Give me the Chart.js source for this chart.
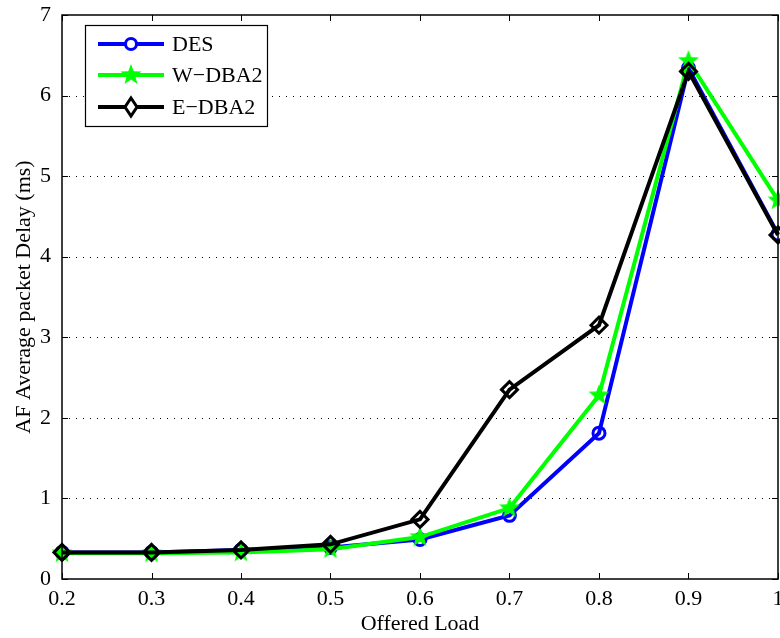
<!DOCTYPE html>
<html>
<head>
<meta charset="utf-8">
<script src="https://cdn.jsdelivr.net/npm/chart.js@4/dist/chart.umd.min.js"></script>
<style>
  html,body{margin:0;padding:0;background:#fff;overflow:hidden;}
  #wrap{width:793px;height:638px;position:relative;}
  canvas{display:block;}
</style>
</head>
<body>
<div id="wrap"><canvas id="c"></canvas></div>
<script>
// data
const loads = [0.2, 0.3, 0.4, 0.5, 0.6, 0.7, 0.8, 0.9, 1.0];
const desDelay = [0.33, 0.33, 0.36, 0.39, 0.49, 0.79, 1.81, 6.34, 4.28];
const wdbaDelay = [0.32, 0.32, 0.33, 0.37, 0.52, 0.88, 2.28, 6.43, 4.70];
const edbaDelay = [0.33, 0.33, 0.36, 0.43, 0.74, 2.35, 3.15, 6.30, 4.27];
const seriesNames = ["DES", "W\u2212DBA2", "E\u2212DBA2"];
const xTicks = [0.2, 0.3, 0.4, 0.5, 0.6, 0.7, 0.8, 0.9, 1];
const yTicks = [0, 1, 2, 3, 4, 5, 6, 7];

const FONT = "'Liberation Serif', 'DejaVu Serif', serif";

// filled pentagram marker like matlab
function starMarker(r, color){
  const c = document.createElement("canvas");
  const s = Math.ceil(r*2+2);
  c.width = s; c.height = s;
  const g = c.getContext("2d");
  g.fillStyle = color;
  g.beginPath();
  for(let i=0;i<10;i++){
    const rr = i%2===0 ? r : r*0.42;
    const a = -Math.PI/2 + i*Math.PI/5;
    const px = s/2 + rr*Math.cos(a), py = s/2 + rr*Math.sin(a);
    i===0 ? g.moveTo(px,py) : g.lineTo(px,py);
  }
  g.closePath();
  g.fill();
  return c;
}
const star = starMarker(11, "#00ff00");

function pts(ys){ return loads.map((x,i)=>({x:x, y:ys[i]})); }

// frame, inward ticks, dotted grid, legend
const matlabAxes = {
  id: "matlabAxes",
  beforeDatasetsDraw(chart){
    const {ctx, chartArea:a, scales:{x, y}} = chart;
    ctx.save();
    ctx.strokeStyle = "#000";
    ctx.lineWidth = 1;
    ctx.setLineDash([1,6]);
    for(const v of yTicks){
      if(v===0 || v===7) continue;
      const py = Math.round(y.getPixelForValue(v))+0.5;
      ctx.beginPath(); ctx.moveTo(a.left, py); ctx.lineTo(a.right, py); ctx.stroke();
    }
    ctx.restore();
  },
  afterDatasetsDraw(chart){
    const {ctx, chartArea:a, scales:{x, y}} = chart;
    ctx.save();
    ctx.strokeStyle = "#000";
    ctx.lineWidth = 1.5;
    ctx.strokeRect(a.left, a.top, a.right-a.left, a.bottom-a.top);
    ctx.lineWidth = 1;
    const t = 6;
    ctx.beginPath();
    for(const v of xTicks){
      const px = Math.round(x.getPixelForValue(v))+0.5;
      ctx.moveTo(px, a.bottom); ctx.lineTo(px, a.bottom-t);
      ctx.moveTo(px, a.top); ctx.lineTo(px, a.top+t);
    }
    for(const v of yTicks){
      const py = Math.round(y.getPixelForValue(v))+0.5;
      ctx.moveTo(a.left, py); ctx.lineTo(a.left+t, py);
      ctx.moveTo(a.right, py); ctx.lineTo(a.right-t, py);
    }
    ctx.stroke();

    // legend box
    const bx = 85, by = 25, bw = 182, bh = 101;
    ctx.fillStyle = "#fff";
    ctx.fillRect(bx, by, bw, bh);
    ctx.lineWidth = 1.2;
    ctx.strokeRect(bx+0.5, by+0.5, bw, bh);
    const rows = [44, 75, 107];
    chart.data.datasets.forEach((ds, i)=>{
      const ry = rows[i];
      ctx.strokeStyle = ds.borderColor;
      ctx.lineWidth = 4;
      ctx.beginPath(); ctx.moveTo(98, ry); ctx.lineTo(164, ry); ctx.stroke();
      const mx = 131;
      if(i===0){
        ctx.lineWidth = 3;
        ctx.fillStyle = "#fff";
        ctx.beginPath(); ctx.arc(mx, ry, 5.5, 0, Math.PI*2); ctx.fill(); ctx.stroke();
      }else if(i===1){
        ctx.drawImage(star, mx-star.width/2, ry-star.height/2);
      }else{
        ctx.lineWidth = 3;
        ctx.fillStyle = "#fff";
        ctx.beginPath();
        ctx.moveTo(mx, ry-9); ctx.lineTo(mx+6, ry); ctx.lineTo(mx, ry+9); ctx.lineTo(mx-6, ry);
        ctx.closePath(); ctx.fill(); ctx.stroke();
      }
      ctx.fillStyle = "#000";
      ctx.font = "22px " + FONT;
      ctx.textBaseline = "middle";
      ctx.fillText(seriesNames[i], 172, ry+1);
    });
    ctx.restore();
  }
};

new Chart(document.getElementById("c"), {
  type: "line",
  data: {
    datasets: [
      {label: seriesNames[0], data: pts(desDelay), borderColor: "#0000ff", borderWidth: 4, order: 3,
       pointStyle: "circle", pointRadius: 6, pointBorderWidth: 3, pointBackgroundColor: "rgba(255,255,255,0)",
       pointBorderColor: "#0000ff", tension: 0},
      {label: seriesNames[1], data: pts(wdbaDelay), borderColor: "#00ff00", borderWidth: 4, order: 2,
       pointStyle: star, pointRadius: 11, tension: 0},
      {label: seriesNames[2], data: pts(edbaDelay), borderColor: "#000000", borderWidth: 4, order: 1,
       pointStyle: "rectRot", pointRadius: 8, pointBorderWidth: 3, pointBackgroundColor: "rgba(255,255,255,0)",
       pointBorderColor: "#000000", tension: 0}
    ]
  },
  options: {
    responsive: true,
    maintainAspectRatio: false,
    animation: false,
    clip: false,
    layout: {padding: {top: 14, right: 0, left: 0, bottom: 0}},
    plugins: {legend: {display: false}, tooltip: {enabled: false}},
    scales: {
      x: {
        type: "linear", min: 0.2, max: 1,
        afterBuildTicks(s){ s.ticks = xTicks.map(v=>({value:v})); },
        afterFit(s){ s.height = 59; },
        grid: {display: false, drawTicks: false},
        border: {display: false},
        ticks: {color: "#000", font: {family: FONT, size: 22}, padding: 7, maxRotation: 0,
                callback: v => v===1 ? "1" : v.toFixed(1)},
        title: {display: true, text: "Offered Load", color: "#000", font: {family: FONT, size: 22}, padding: {top: 0, bottom: 1}}
      },
      y: {
        min: 0, max: 7,
        afterBuildTicks(s){ s.ticks = yTicks.map(v=>({value:v})); },
        afterFit(s){ s.width = 62; s.paddingTop = 0; s.paddingBottom = 0; },
        grid: {display: false, drawTicks: false},
        border: {display: false},
        ticks: {color: "#000", font: {family: FONT, size: 22}, padding: 11},
        title: {display: true, text: "AF Average packet Delay (ms)", color: "#000", font: {family: FONT, size: 22}, padding: {top: 11, bottom: 0}}
      }
    }
  },
  plugins: [matlabAxes]
});
</script>
</body>
</html>
